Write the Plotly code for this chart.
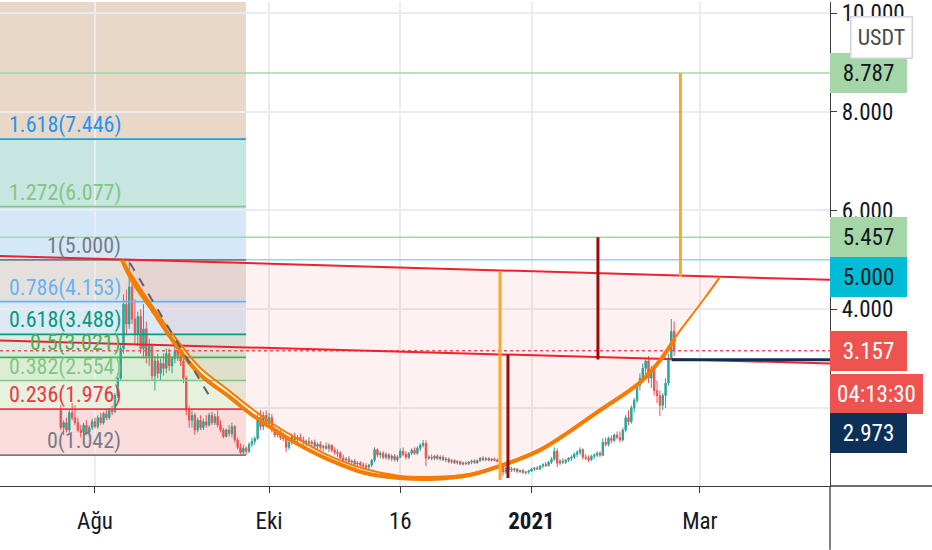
import pandas as pd
import plotly.graph_objects as go

FONT = "Roboto Condensed, Roboto, sans-serif"

# daily candles, first bar 20 Jul 2020
first_day = "2020-07-20"
opens = [
    1.95, 1.60, 1.70, 1.55, 1.90, 1.80, 1.70, 1.55, 1.50, 1.65,
    1.50, 1.60, 1.72, 1.62, 1.80, 1.70, 1.88, 1.80, 1.95, 1.92,
    2.25, 2.60, 3.20, 4.10, 3.70, 4.45, 3.80, 3.50, 3.85, 3.20,
    3.60, 3.05, 3.25, 2.65, 2.95, 2.70, 2.90, 2.80, 3.10, 2.85,
    3.00, 3.15, 3.05, 2.95, 2.60, 1.95, 1.75, 1.85, 1.55, 1.75,
    1.60, 1.72, 1.65, 1.85, 1.70, 1.82, 1.65, 1.55, 1.42, 1.55,
    1.48, 1.62, 1.35, 1.20, 1.10, 1.18, 1.12, 1.26, 1.32, 1.38,
    1.80, 1.62, 1.85, 1.68, 1.80, 1.55, 1.45, 1.52, 1.40, 1.38,
    1.20, 1.30, 1.42, 1.35, 1.40, 1.35, 1.30, 1.32, 1.28, 1.30,
    1.22, 1.26, 1.20, 1.22, 1.18, 1.24, 1.14, 1.10, 1.08, 0.98,
    0.94, 0.96, 0.90, 0.92, 0.86, 0.88, 0.84, 0.82, 0.80, 0.84,
    0.94, 1.15, 1.05, 1.08, 1.00, 1.05, 0.98, 1.02, 0.95, 1.00,
    1.12, 1.06, 1.00, 1.08, 1.14, 1.08, 1.18, 1.24, 1.28, 0.98,
    1.00, 0.98, 1.02, 0.97, 1.00, 0.95, 0.96, 0.91, 0.93, 0.89,
    0.91, 0.86, 0.88, 0.87, 0.90, 0.92, 0.89, 0.93, 0.98, 0.95,
    0.97, 0.94, 0.96, 0.94, 0.92, 0.84, 0.70, 0.78, 0.76, 0.74,
    0.76, 0.71, 0.73, 0.69, 0.70, 0.72, 0.76, 0.78, 0.76, 0.82,
    0.85, 0.83, 0.90, 0.96, 1.12, 0.88, 0.92, 0.90, 0.94, 0.98,
    1.00, 1.06, 1.10, 1.15, 1.00, 0.98, 0.95, 1.02, 1.04, 1.08,
    1.04, 1.30, 1.26, 1.38, 1.34, 1.45, 1.40, 1.35, 1.55, 1.80,
    1.72, 2.00, 2.15, 2.45, 2.60, 2.80, 2.95, 2.60, 2.75, 2.35,
    2.25, 2.05, 2.25, 2.50, 3.00, 3.55,
]
highs = [
    2.05, 1.75, 1.80, 1.95, 2.10, 2.05, 1.80, 1.65, 1.70, 1.75,
    1.65, 1.78, 1.80, 1.85, 1.90, 1.92, 1.98, 2.00, 2.05, 2.30,
    2.70, 3.30, 4.30, 4.40, 5.00, 4.55, 4.20, 3.95, 4.00, 4.10,
    3.75, 3.40, 3.30, 3.05, 3.10, 3.00, 3.10, 3.20, 3.20, 3.05,
    3.25, 3.30, 3.20, 3.00, 2.65, 2.05, 1.95, 1.90, 1.80, 1.85,
    1.78, 1.85, 1.90, 1.92, 1.88, 1.95, 1.75, 1.60, 1.58, 1.65,
    1.70, 1.65, 1.40, 1.28, 1.25, 1.22, 1.30, 1.40, 1.42, 1.90,
    1.95, 1.92, 1.95, 1.90, 1.88, 1.62, 1.58, 1.55, 1.50, 1.42,
    1.35, 1.48, 1.50, 1.45, 1.48, 1.42, 1.36, 1.40, 1.35, 1.36,
    1.30, 1.32, 1.25, 1.30, 1.28, 1.26, 1.20, 1.16, 1.12, 1.05,
    1.00, 1.02, 0.95, 0.96, 0.92, 0.92, 0.90, 0.88, 0.86, 0.96,
    1.20, 1.18, 1.12, 1.12, 1.10, 1.08, 1.06, 1.06, 1.04, 1.18,
    1.20, 1.12, 1.10, 1.18, 1.20, 1.22, 1.28, 1.35, 1.34, 1.04,
    1.06, 1.05, 1.06, 1.04, 1.04, 1.00, 0.99, 0.96, 0.96, 0.94,
    0.93, 0.91, 0.92, 0.92, 0.95, 0.96, 0.95, 1.00, 1.02, 1.00,
    1.00, 0.98, 0.99, 0.97, 0.94, 0.86, 0.82, 0.82, 0.80, 0.79,
    0.78, 0.75, 0.76, 0.72, 0.74, 0.78, 0.80, 0.82, 0.84, 0.88,
    0.90, 0.92, 1.00, 1.20, 1.18, 0.96, 0.98, 0.96, 1.00, 1.04,
    1.10, 1.14, 1.20, 1.18, 1.06, 1.04, 1.05, 1.08, 1.12, 1.12,
    1.38, 1.40, 1.42, 1.44, 1.48, 1.52, 1.52, 1.60, 1.85, 1.95,
    2.05, 2.20, 2.50, 2.70, 2.90, 3.00, 3.05, 2.85, 2.85, 2.55,
    2.35, 2.30, 2.60, 3.10, 3.80, 3.75,
]
lows = [
    1.55, 1.45, 1.50, 1.50, 1.75, 1.65, 1.50, 1.40, 1.45, 1.45,
    1.42, 1.55, 1.58, 1.58, 1.65, 1.66, 1.75, 1.76, 1.85, 1.90,
    2.20, 2.55, 3.10, 3.50, 3.60, 3.70, 3.30, 3.25, 3.10, 3.00,
    2.90, 2.85, 2.55, 2.35, 2.60, 2.55, 2.65, 2.70, 2.75, 2.70,
    2.90, 2.95, 2.85, 2.50, 1.85, 1.60, 1.60, 1.45, 1.50, 1.55,
    1.55, 1.60, 1.62, 1.65, 1.65, 1.60, 1.50, 1.38, 1.40, 1.42,
    1.40, 1.30, 1.15, 1.05, 1.06, 1.042, 1.08, 1.20, 1.25, 1.35,
    1.55, 1.55, 1.60, 1.62, 1.50, 1.40, 1.40, 1.35, 1.32, 1.10,
    1.15, 1.25, 1.30, 1.28, 1.32, 1.25, 1.22, 1.25, 1.20, 1.18,
    1.16, 1.15, 1.12, 1.15, 1.10, 1.10, 1.05, 1.00, 0.96, 0.90,
    0.88, 0.86, 0.84, 0.82, 0.80, 0.80, 0.78, 0.76, 0.75, 0.80,
    0.90, 1.00, 0.98, 0.96, 0.95, 0.94, 0.92, 0.92, 0.90, 0.98,
    1.02, 0.95, 0.96, 1.04, 1.05, 1.05, 1.12, 1.20, 0.82, 0.95,
    0.94, 0.94, 0.95, 0.93, 0.92, 0.90, 0.88, 0.87, 0.86, 0.85,
    0.84, 0.83, 0.84, 0.84, 0.86, 0.87, 0.86, 0.90, 0.92, 0.92,
    0.92, 0.91, 0.92, 0.90, 0.80, 0.62, 0.66, 0.72, 0.70, 0.70,
    0.68, 0.68, 0.66, 0.65, 0.66, 0.70, 0.72, 0.74, 0.74, 0.78,
    0.80, 0.81, 0.86, 0.93, 0.80, 0.84, 0.86, 0.86, 0.90, 0.92,
    0.96, 1.00, 1.04, 0.95, 0.94, 0.90, 0.92, 0.96, 1.00, 1.00,
    1.02, 1.22, 1.22, 1.28, 1.30, 1.36, 1.30, 1.32, 1.50, 1.65,
    1.68, 1.90, 2.10, 2.35, 2.50, 2.65, 2.50, 2.40, 2.25, 2.10,
    1.83, 1.95, 2.00, 2.45, 2.95, 3.05,
]
closes = [
    1.60, 1.70, 1.55, 1.90, 1.80, 1.70, 1.55, 1.50, 1.65, 1.50,
    1.60, 1.72, 1.62, 1.80, 1.70, 1.88, 1.80, 1.95, 1.92, 2.25,
    2.60, 3.20, 4.10, 3.70, 4.45, 3.80, 3.50, 3.85, 3.20, 3.60,
    3.05, 3.25, 2.65, 2.95, 2.70, 2.90, 2.80, 3.10, 2.85, 3.00,
    3.15, 3.05, 2.95, 2.60, 1.95, 1.75, 1.85, 1.55, 1.75, 1.60,
    1.72, 1.65, 1.85, 1.70, 1.82, 1.65, 1.55, 1.42, 1.55, 1.48,
    1.62, 1.35, 1.20, 1.10, 1.18, 1.12, 1.26, 1.32, 1.38, 1.80,
    1.62, 1.85, 1.68, 1.80, 1.55, 1.45, 1.52, 1.40, 1.38, 1.20,
    1.30, 1.42, 1.35, 1.40, 1.35, 1.30, 1.32, 1.28, 1.30, 1.22,
    1.26, 1.20, 1.22, 1.18, 1.24, 1.14, 1.10, 1.08, 0.98, 0.94,
    0.96, 0.90, 0.92, 0.86, 0.88, 0.84, 0.82, 0.80, 0.84, 0.94,
    1.15, 1.05, 1.08, 1.00, 1.05, 0.98, 1.02, 0.95, 1.00, 1.12,
    1.06, 1.00, 1.08, 1.14, 1.08, 1.18, 1.24, 1.28, 0.98, 1.00,
    0.98, 1.02, 0.97, 1.00, 0.95, 0.96, 0.91, 0.93, 0.89, 0.91,
    0.86, 0.88, 0.87, 0.90, 0.92, 0.89, 0.93, 0.98, 0.95, 0.97,
    0.94, 0.96, 0.94, 0.92, 0.84, 0.70, 0.78, 0.76, 0.74, 0.76,
    0.71, 0.73, 0.69, 0.70, 0.72, 0.76, 0.78, 0.76, 0.82, 0.85,
    0.83, 0.90, 0.96, 1.12, 0.88, 0.92, 0.90, 0.94, 0.98, 1.00,
    1.06, 1.10, 1.15, 1.00, 0.98, 0.95, 1.02, 1.04, 1.08, 1.04,
    1.30, 1.26, 1.38, 1.34, 1.45, 1.40, 1.35, 1.55, 1.80, 1.72,
    2.00, 2.15, 2.45, 2.60, 2.80, 2.95, 2.60, 2.75, 2.35, 2.25,
    2.05, 2.25, 2.50, 3.00, 3.55, 3.157,
]

# fib retracement (0 = 1.042 low, 1 = 5.000 high)
fib_ratios = ["0", "0.236", "0.382", "0.5", "0.618", "0.786", "1", "1.272", "1.618"]
fib_prices = [1.042, 1.976, 2.554, 3.021, 3.488, 4.153, 5.000, 6.077, 7.446]
fib_colors = ["#787b86", "#f23645", "#81c784", "#4caf50", "#089981",
              "#64b5f6", "#787b86", "#81c784", "#2196f3"]
fib_bands = ["#fadcdc", "#e6f1de", "#dcedd6", "#d9ece0", "#dceaf5",
             "#e6e0dd", "#d5e8fa", "#c7e5e1", "#e9d8c7"]
fib_start, fib_end, fib_label_x = "2020-06-01", "2020-09-22 22:00", "2020-08-10 11:00"

# drawings (date, price)
cup_dates = ["2020-08-10 11:00", "2020-08-14 08:00", "2020-08-20 07:00", "2020-08-30 19:00",
             "2020-09-06 19:00", "2020-09-17 08:00", "2020-09-24 08:00", "2020-10-03 02:00",
             "2020-10-11 20:00", "2020-10-22 09:00", "2020-11-03 15:00", "2020-11-15 22:00",
             "2020-11-26 10:00", "2020-12-10 10:00", "2020-12-20 23:00", "2021-01-03 23:00",
             "2021-01-25 00:00", "2021-02-08 01:00", "2021-02-15 01:00", "2021-02-20 07:00"]
cup_prices = [5.000, 4.554, 4.049, 3.161, 2.677, 2.213, 1.890, 1.547, 1.244, 0.941,
              0.679, 0.578, 0.558, 0.638, 0.820, 1.143, 1.950, 2.515, 2.959, 3.403]
arc_dates = ["2020-08-10 11:00", "2020-08-20 07:00", "2020-08-30 19:00", "2020-09-06 19:00",
             "2020-09-17 08:00", "2020-09-24 08:00", "2020-10-03 02:00", "2020-10-11 20:00",
             "2020-10-22 09:00", "2020-11-03 15:00", "2020-11-15 22:00", "2020-11-26 10:00",
             "2020-12-10 10:00", "2020-12-20 23:00", "2021-01-03 23:00", "2021-01-25 00:00",
             "2021-02-08 01:00", "2021-02-15 01:00", "2021-02-20 07:00", "2021-02-25 13:00",
             "2021-03-02 19:00", "2021-03-08 02:00"]
arc_prices = [5.000, 4.130, 3.302, 2.818, 2.334, 2.011, 1.647, 1.345, 1.022, 0.759, 0.618,
              0.598, 0.659, 0.840, 1.163, 1.970, 2.535, 2.979, 3.423, 3.827, 4.231, 4.655]

x_first, x_last = "2020-06-28 17:00", "2021-04-15 15:00"
upper_trend = [5.078, 4.594]
lower_trend = [3.363, 2.899]
dash_dates, dash_prices = ["2020-08-13 06:00", "2020-09-11 00:00"], [4.937, 2.152]

# (date, low, high, colour)
verticals = [
    ("2020-12-20 23:00", 0.537, 4.776, "#ffa726"),
    ("2020-12-23 18:00", 0.578, 3.080, "#9b0a0a"),
    ("2021-01-24 07:00", 2.980, 5.457, "#9b0a0a"),
    ("2021-02-22 05:00", 4.655, 8.787, "#ffa726"),
]
levels = [(8.787, "#a5d6a7"), (5.457, "#a5d6a7"), (5.000, "#80deea")]
stop_start, stop_price = "2021-02-19 06:00", 2.973
last_price = 3.157
countdown = "04:13:30"

fig = go.Figure()

# cup fill
fig.add_trace(go.Scatter(x=arc_dates, y=arc_prices, mode="lines", fill="toself",
                         fillcolor="rgba(242,54,69,0.07)", line=dict(width=0, shape="spline"),
                         hoverinfo="skip"))

fig.add_trace(go.Candlestick(
    x=pd.date_range(first_day, periods=len(closes), freq="D"),
    open=opens, high=highs, low=lows, close=closes,
    increasing=dict(line=dict(color="#26a69a", width=1), fillcolor="#26a69a"),
    decreasing=dict(line=dict(color="#ef5350", width=1), fillcolor="#ef5350"),
    whiskerwidth=0, hoverinfo="skip",
))

# last price dotted line
fig.add_trace(go.Scatter(x=[x_first, x_last], y=[last_price, last_price], mode="lines",
                         line=dict(color="#ef5350", width=1.5, dash="dot"), hoverinfo="skip"))

for price, col in levels:
    fig.add_trace(go.Scatter(x=[x_first, x_last], y=[price, price], mode="lines",
                             line=dict(color=col, width=1.6), hoverinfo="skip"))

# fib bands + lines + labels
for i, price in enumerate(fib_prices):
    top = fib_prices[i + 1] if i + 1 < len(fib_prices) else 12
    fig.add_shape(type="rect", xref="x", yref="y", x0=fib_start, x1=fib_end, y0=price, y1=top,
                  fillcolor=fib_bands[i], line_width=0, layer="below")
    fig.add_trace(go.Scatter(x=[fib_start, fib_end], y=[price, price], mode="lines",
                             line=dict(color=fib_colors[i], width=1.7), hoverinfo="skip"))
    fig.add_annotation(x=fib_label_x, y=price, xref="x", yref="y", xanchor="right",
                       yanchor="bottom", showarrow=False, borderpad=0,
                       text=f"{fib_ratios[i]}({price:.3f})",
                       font=dict(family=FONT, size=22, color=fib_colors[i]))

# trend lines
for vals in (upper_trend, lower_trend):
    fig.add_trace(go.Scatter(x=[x_first, x_last], y=vals, mode="lines",
                             line=dict(color="#f2202a", width=2), hoverinfo="skip"))

# cup arcs
fig.add_trace(go.Scatter(x=arc_dates, y=arc_prices, mode="lines",
                         line=dict(color="#f57c00", width=2, shape="spline"), hoverinfo="skip"))
fig.add_trace(go.Scatter(x=cup_dates, y=cup_prices, mode="lines",
                         line=dict(color="#f57c00", width=4, shape="spline"), hoverinfo="skip"))
fig.add_trace(go.Scatter(x=dash_dates, y=dash_prices, mode="lines",
                         line=dict(color="#5d606b", width=2, dash="dash"), hoverinfo="skip"))

for d, lo, hi, col in verticals:
    fig.add_trace(go.Scatter(x=[d, d], y=[lo, hi], mode="lines",
                             line=dict(color=col, width=3), hoverinfo="skip"))

fig.add_trace(go.Scatter(x=[stop_start, x_last], y=[stop_price, stop_price], mode="lines",
                         line=dict(color="#0c3058", width=3), hoverinfo="skip"))

# price scale labels
tags = [
    (8.787, "8.787", "#a5d6a7", "#131722", 77, 0),
    (5.457, "5.457", "#a5d6a7", "#131722", 77, 0),
    (5.000, "5.000", "#00bcd4", "#131722", 77, -17.5),
    (last_price, "3.157", "#ef5350", "white", 77, 0),
    (last_price, countdown, "#ef5350", "white", 93, -43),
    (stop_price, "2.973", "#0c3058", "white", 77, -73.5),
]
for price, txt, bg, fg, w, shift in tags:
    fig.add_annotation(x=1, xref="paper", xanchor="left", y=price, yref="y", yanchor="middle",
                       yshift=shift, text=txt, showarrow=False, bgcolor=bg, width=w, height=40,
                       borderpad=0, borderwidth=0, align="center",
                       font=dict(family=FONT, size=23, color=fg))

fig.add_annotation(x=881 / 830, y=1 - 35.5 / 486, xref="paper", yref="paper",
                   xanchor="center", yanchor="middle", text="USDT",
                   showarrow=False, bgcolor="white", bordercolor="#d1d4dc", borderwidth=1.5,
                   borderpad=5, width=50, height=30,
                   font=dict(family=FONT, size=22, color="#4a4a4a"))

# axis line extensions into the scale area
fig.add_shape(type="line", xref="paper", yref="paper", x0=1, x1=1, y0=0, y1=-64 / 486,
              line=dict(color="#3c3c3c", width=1.3), layer="above")
fig.add_shape(type="line", xref="paper", yref="paper", x0=1, x1=932 / 830, y0=0, y1=0,
              line=dict(color="#3c3c3c", width=1.3), layer="above")

fig.update_layout(
    width=932, height=550,
    margin=dict(l=0, r=102, t=0, b=64),
    paper_bgcolor="white", plot_bgcolor="white",
    showlegend=False, hovermode=False,
    xaxis=dict(
        type="date", range=[x_first, x_last],
        tickvals=["2020-08-01", "2020-10-01", "2020-11-16", "2021-01-01", "2021-03-01"],
        ticktext=["Ağu", "Eki", "16", "<b>2021</b>", "Mar"],
        showgrid=True, gridcolor="#e9ecf0", gridwidth=1.5,
        showline=True, linecolor="#3c3c3c", linewidth=1.3,
        ticks="outside", ticklen=6, tickcolor="#3c3c3c", ticklabelstandoff=8,
        tickfont=dict(family=FONT, size=23, color="#131722"),
        rangeslider=dict(visible=False), fixedrange=True,
    ),
    yaxis=dict(
        side="right", range=[0.416, 10.225],
        tickvals=[2, 4, 6, 8, 10], ticktext=["", "4.000", "6.000", "8.000", "10.000"],
        showgrid=True, gridcolor="#e9ecf0", gridwidth=1.5, zeroline=False,
        showline=True, linecolor="#3c3c3c", linewidth=1.3,
        ticks="outside", ticklen=6, tickcolor="#3c3c3c", ticklabeloverflow="allow",
        tickfont=dict(family=FONT, size=23, color="#131722"),
        fixedrange=True,
    ),
)

fig.write_html("out.html", config={"displayModeBar": False},
               post_script="document.body.style.margin = '0';")
